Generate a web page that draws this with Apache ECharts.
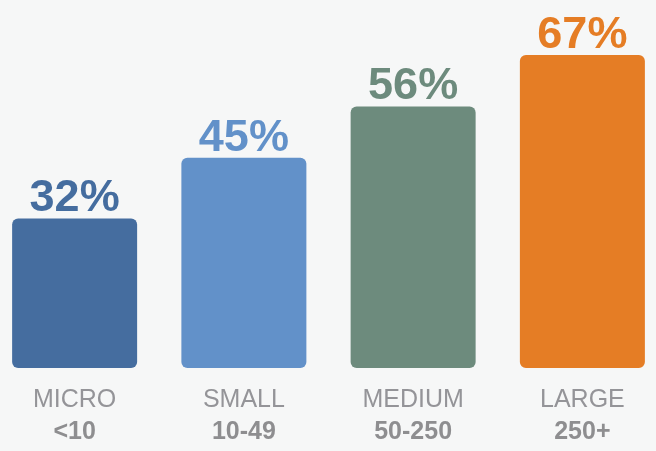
<!DOCTYPE html>
<html>
<head>
<meta charset="utf-8">
<script src="https://cdn.jsdelivr.net/npm/echarts@6/dist/echarts.min.js"></script>
<style>
html,body{margin:0;padding:0;background:#f6f7f7;}
#c{width:656px;height:451px;}
</style>
</head>
<body>
<div id="c"></div>
<script>
const categories = ['MICRO', 'SMALL', 'MEDIUM', 'LARGE'];
const sizeRanges = ['<10', '10-49', '50-250', '250+'];
const values = [32, 45, 56, 67];
const colors = ['#456d9f', '#6291c9', '#6d8b7d', '#e57d25'];

const chart = echarts.init(document.getElementById('c'));
chart.setOption({
  backgroundColor: '#f6f7f7',
  animation: false,
  grid: { left: -10, right: -11, top: 41, bottom: 83, outerBoundsMode: 'none', containLabel: false },
  xAxis: {
    type: 'category',
    data: categories.map((c, i) => c + '\n' + sizeRanges[i]),
    axisLine: { show: false },
    axisTick: { show: false },
    axisLabel: {
      margin: 15,
      formatter: function (v) {
        const p = v.split('\n');
        return '{a|' + p[0] + '}\n{b|' + p[1] + '}';
      },
      rich: {
        a: { fontFamily: 'Liberation Sans', fontSize: 25, color: '#949498', lineHeight: 34 },
        b: { fontFamily: 'Liberation Sans', fontSize: 25, fontWeight: 'bold', color: '#8e8e90', lineHeight: 31 }
      }
    }
  },
  yAxis: {
    type: 'value', min: 0, max: 70, show: false,
    splitLine: { show: false }
  },
  series: [{
    type: 'bar',
    barWidth: 125,
    data: values.map((v, i) => ({
      value: v,
      itemStyle: { color: colors[i], borderRadius: 6 },
      label: { color: colors[i] }
    })),
    label: {
      show: true,
      position: 'top',
      distance: -3,
      formatter: '{c}%',
      fontFamily: 'Liberation Sans',
      fontWeight: 'bold',
      fontSize: 45
    }
  }]
});
</script>
</body>
</html>
